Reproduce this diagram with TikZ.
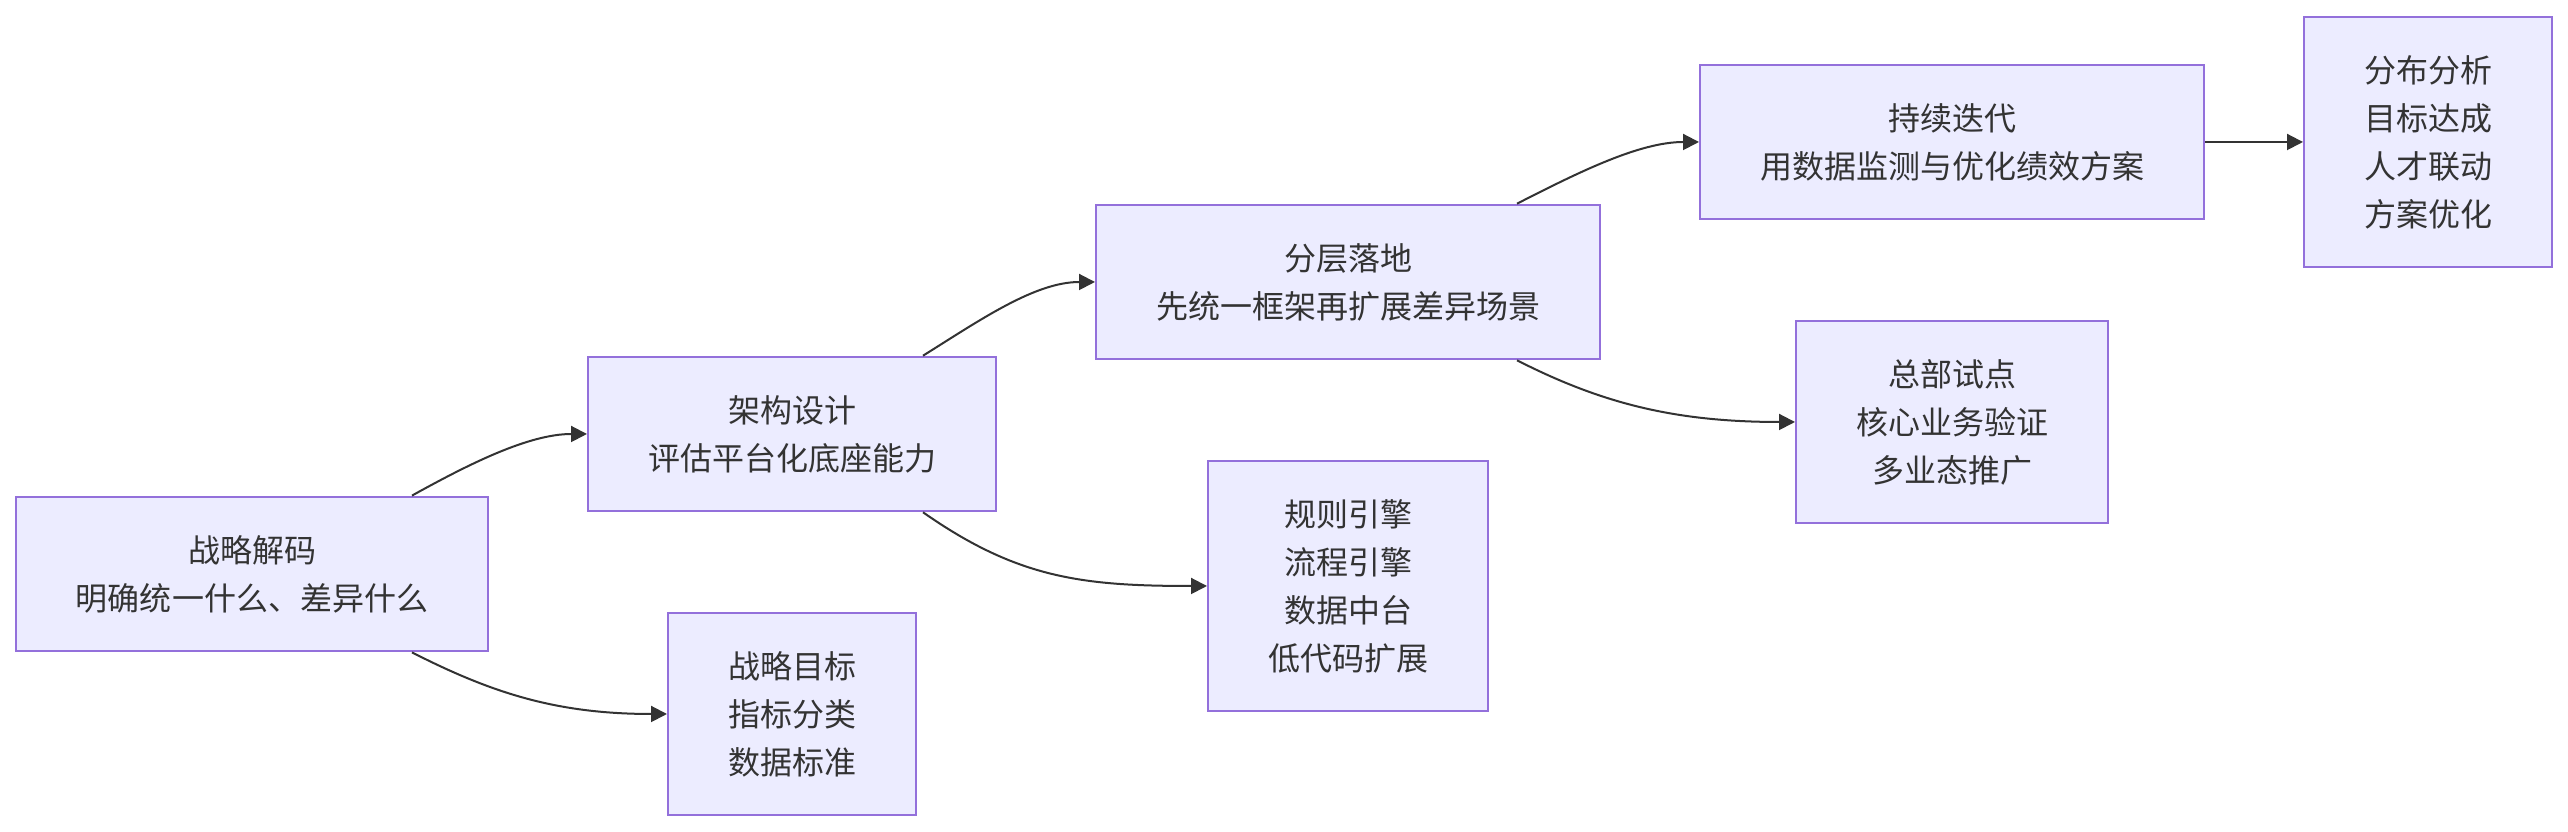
\documentclass[tikz,border=0pt]{standalone}
\usepackage{fontspec}
\usetikzlibrary{arrows.meta,positioning}
\newfontfamily\cjk{Noto Sans CJK SC}
\definecolor{ink}{HTML}{333333}
\definecolor{lilac}{HTML}{9370DB}
\definecolor{pale}{HTML}{ECECFF}

\begin{document}
\begin{tikzpicture}[>={Triangle[length=0.16cm,width=0.16cm]},
  every node/.style={font=\cjk\fontsize{0.32cm}{0.48cm}\selectfont,text=ink},
  stage/.style={draw=lilac,fill=pale,line width=0.02cm,align=center,
    inner xsep=0.6cm,inner ysep=0.385cm},
  flow/.style={->,draw=ink,line width=0.02cm}]
\useasboundingbox (0,0) rectangle (25.68,8.32);
% stages
\node[stage] (decode) at (2.52,2.58) {战略解码\\明确统一什么、差异什么};
\node[stage] (arch) at (7.92,3.98) {架构设计\\评估平台化底座能力};
\node[stage] (goals) at (7.92,1.18) {战略目标\\指标分类\\数据标准};
\node[stage] (layer) at (13.48,5.50) {分层落地\\先统一框架再扩展差异场景};
\node[stage] (engine) at (13.48,2.46) {规则引擎\\流程引擎\\数据中台\\低代码扩展};
\node[stage] (iterate) at (19.52,6.90) {持续迭代\\用数据监测与优化绩效方案};
\node[stage] (pilot) at (19.52,4.10) {总部试点\\核心业务验证\\多业态推广};
\node[stage] (result) at (24.28,6.90) {分布分析\\目标达成\\人才联动\\方案优化};
% links
\draw[flow] ([xshift=1.6cm]decode.north) .. controls +(29:0.66) and +(-0.58,0) .. (arch.west);
\draw[flow] ([xshift=1.6cm]decode.south) .. controls +(-27:0.9) and +(-1.1,0) .. (goals.west);
\draw[flow] ([xshift=1.31cm]arch.north) .. controls +(32:0.68) and +(-0.6,0) .. (layer.west);
\draw[flow] ([xshift=1.31cm]arch.south) .. controls +(-35:1.15) and +(-1.25,0) .. (engine.west);
\draw[flow] ([xshift=1.69cm]layer.north) .. controls +(27:0.68) and +(-0.6,0) .. (iterate.west);
\draw[flow] ([xshift=1.69cm]layer.south) .. controls +(-27:0.95) and +(-1.2,0) .. (pilot.west);
\draw[flow] (iterate.east) -- (result.west);
\end{tikzpicture}
\end{document}
